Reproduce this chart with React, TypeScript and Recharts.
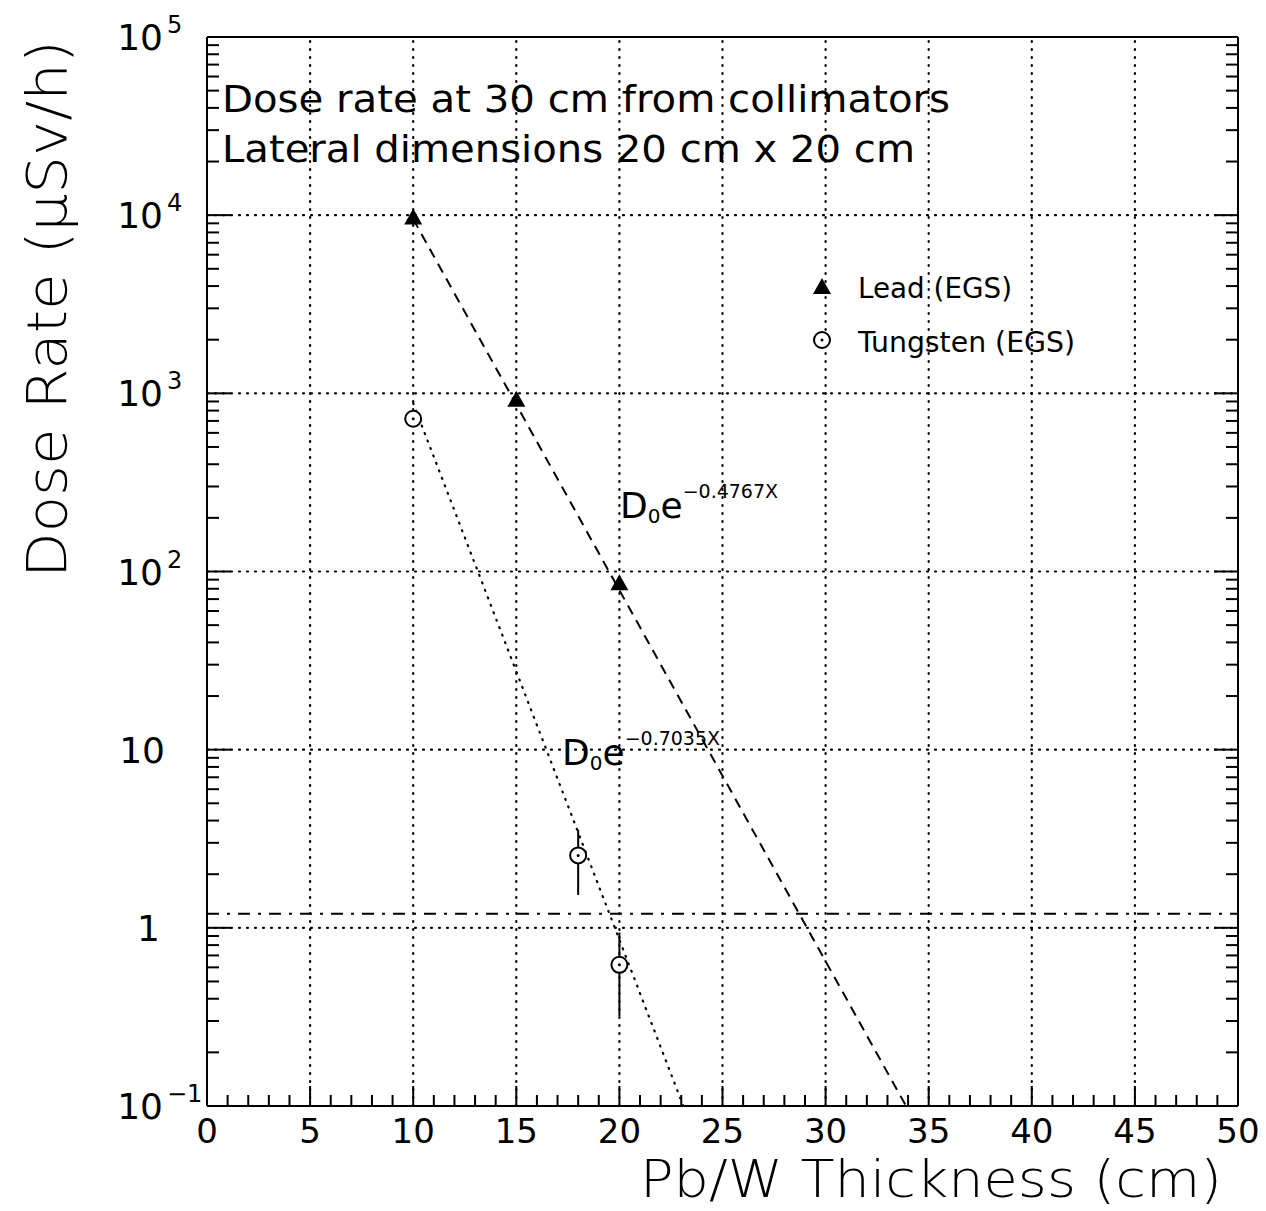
import React from "react";
import { ComposedChart, XAxis, YAxis, Line, Scatter, ErrorBar, ReferenceLine } from "recharts";

// Pb/W thickness (cm) vs dose rate (uSv/h)
const leadThickness = [10, 15, 20];
const leadDose = [9700, 920, 86];

const tungstenThickness = [10, 18, 20];
const tungstenDose = [720, 2.55, 0.62];
const tungstenErrLow = [0, 1.02, 0.3];
const tungstenErrHigh = [0, 1.0, 0.32];

// exponential fits, end points as drawn
const leadFitX = [10, 33.9];
const leadFitY = [9500, 0.1];
const tungstenFitX = [10, 23.1];
const tungstenFitY = [880, 0.1];

const limitDose = 1.2;

const xMajor = [0, 5, 10, 15, 20, 25, 30, 35, 40, 45, 50];
const xMinor = Array.from({ length: 51 }, (_, i) => i);
const yMajor = [0.1, 1, 10, 100, 1000, 10000, 100000];
const yMinor = [0.1, 1, 10, 100, 1000, 10000]
  .flatMap((d) => [1, 2, 3, 4, 5, 6, 7, 8, 9].map((m) => m * d))
  .concat([100000]);
const yLabels: Record<string, [string, string]> = {
  "0.1": ["10", "\u22121"],
  "1": ["1", ""],
  "10": ["10", ""],
  "100": ["10", "2"],
  "1000": ["10", "3"],
  "10000": ["10", "4"],
  "100000": ["10", "5"],
};

const leadData = leadThickness.map((x, i) => ({ x, y: leadDose[i] }));
const tungstenData = tungstenThickness.map((x, i) => ({
  x,
  y: tungstenDose[i],
  err: [tungstenErrLow[i], tungstenErrHigh[i]],
}));
const leadFit = leadFitX.map((x, i) => ({ x, y: leadFitY[i] }));
const tungstenFit = tungstenFitX.map((x, i) => ({ x, y: tungstenFitY[i] }));

const W = 1258;
const H = 1203;
const PL = 199;
const PT = 29;
const PR = 1230;
const PB = 1098;
const FONT = "'DejaVu Sans', sans-serif";

const isDecade = (v: number) => Math.abs(Math.log10(v) - Math.round(Math.log10(v))) < 1e-6;

const BottomTick = ({ x, payload }: any) => {
  const v = payload.value;
  const major = v % 5 === 0;
  return (
    <g>
      <line x1={x} x2={x} y1={PB} y2={PB - (major ? 20 : 11)} stroke="#000" strokeWidth={2} />
      {major && (
        <text x={x} y={PB + 37} textAnchor="middle" fontSize={34} fontFamily={FONT} fill="#000">
          {v}
        </text>
      )}
    </g>
  );
};

const TopTick = ({ x, payload }: any) => {
  const major = payload.value % 5 === 0;
  return <line x1={x} x2={x} y1={PT} y2={PT + (major ? 20 : 11)} stroke="#000" strokeWidth={2} />;
};

const LeftTick = ({ y, payload }: any) => {
  const v = payload.value;
  const major = isDecade(v);
  const lab = yLabels[String(v)];
  return (
    <g>
      <line x1={PL} x2={PL + (major ? 24 : 12)} y1={y} y2={y} stroke="#000" strokeWidth={2} />
      {major && lab && (
        <g fontFamily={FONT} fill="#000">
          <text x={lab[1] ? 155 : v === 1 ? 152 : 157} y={y + 13} textAnchor="end" fontSize={36}>
            {lab[0]}
          </text>
          {lab[1] && (
            <text x={159} y={y - 4} textAnchor="start" fontSize={24}>
              {lab[1]}
            </text>
          )}
        </g>
      )}
    </g>
  );
};

const RightTick = ({ y, payload }: any) => {
  const major = isDecade(payload.value);
  return <line x1={PR} x2={PR - (major ? 24 : 12)} y1={y} y2={y} stroke="#000" strokeWidth={2} />;
};

const Triangle = ({ cx, cy }: any) => (
  <path d={`M${cx},${cy - 9} L${cx + 9},${cy + 7} L${cx - 9},${cy + 7} Z`} fill="#000" />
);

const OpenCircle = ({ cx, cy }: any) => (
  <g>
    <circle cx={cx} cy={cy} r={8} fill="#fff" stroke="#000" strokeWidth={2} />
    <circle cx={cx} cy={cy} r={1.5} fill="#000" />
  </g>
);

const gridStyle = { stroke: "#000", strokeWidth: 2.2, strokeDasharray: "1 7", strokeLinecap: "round" as const };

export default function App() {
  return (
    <div style={{ position: "relative", width: W, height: H, background: "#fff" }}>
      <ComposedChart width={W} height={H} margin={{ top: 28, right: W - PR - 1, bottom: 0, left: 0 }}>
        <XAxis
          dataKey="x"
          type="number"
          domain={[0, 50]}
          ticks={xMinor}
          interval={0}
          height={H - PB}
          tickLine={false}
          axisLine={{ stroke: "#000", strokeWidth: 2 }}
          tick={<BottomTick />}
        />
        <XAxis
          xAxisId="top"
          orientation="top"
          type="number"
          domain={[0, 50]}
          ticks={xMinor}
          interval={0}
          height={1}
          tickLine={false}
          axisLine={{ stroke: "#000", strokeWidth: 2 }}
          tick={<TopTick />}
        />
        <YAxis
          dataKey="y"
          type="number"
          scale="log"
          domain={[0.1, 100000]}
          allowDataOverflow
          ticks={yMinor}
          interval={0}
          width={PL}
          tickLine={false}
          axisLine={{ stroke: "#000", strokeWidth: 2 }}
          tick={<LeftTick />}
        />
        <YAxis
          yAxisId="right"
          orientation="right"
          type="number"
          scale="log"
          domain={[0.1, 100000]}
          allowDataOverflow
          ticks={yMinor}
          interval={0}
          width={1}
          tickLine={false}
          axisLine={{ stroke: "#000", strokeWidth: 2 }}
          tick={<RightTick />}
        />
        {xMajor.slice(1, -1).map((v) => (
          <ReferenceLine key={`gx${v}`} x={v} {...gridStyle} />
        ))}
        {yMajor.slice(1, -1).map((v) => (
          <ReferenceLine key={`gy${v}`} y={v} {...gridStyle} />
        ))}
        <ReferenceLine y={limitDose} stroke="#000" strokeWidth={2} strokeDasharray="12 8 3 8" />
        <Line
          data={leadFit}
          dataKey="y"
          type="linear"
          stroke="#000"
          strokeWidth={2}
          strokeDasharray="10 7"
          dot={false}
          isAnimationActive={false}
        />
        <Line
          data={tungstenFit}
          dataKey="y"
          type="linear"
          stroke="#000"
          strokeWidth={2.2}
          strokeDasharray="1 7"
          strokeLinecap="round"
          dot={false}
          isAnimationActive={false}
        />
        <Scatter data={leadData} dataKey="y" shape={<Triangle />} isAnimationActive={false} />
        <Scatter data={tungstenData} dataKey="y" shape={<OpenCircle />} isAnimationActive={false}>
          <ErrorBar dataKey="err" direction="y" width={0} stroke="#000" strokeWidth={2} />
        </Scatter>
      </ComposedChart>
      <svg
        width={W}
        height={H}
        style={{ position: "absolute", left: 0, top: 0, pointerEvents: "none" }}
        fontFamily={FONT}
        fill="#000"
      >
        <text x={214} y={104} fontSize={38} textLength={728} lengthAdjust="spacingAndGlyphs">
          Dose rate at 30 cm from collimators
        </text>
        <text x={214} y={154} fontSize={38} textLength={693} lengthAdjust="spacingAndGlyphs">
          Lateral dimensions 20 cm x 20 cm
        </text>

        <path d="M814,270 L823,286 L805,286 Z" fill="#000" />
        <text x={850} y={290} fontSize={28} textLength={154} lengthAdjust="spacingAndGlyphs">
          Lead (EGS)
        </text>
        <circle cx={814} cy={332} r={8} fill="#fff" stroke="#000" strokeWidth={2} />
        <circle cx={814} cy={332} r={1.5} fill="#000" />
        <text x={850} y={344} fontSize={28} textLength={217} lengthAdjust="spacingAndGlyphs">
          Tungsten (EGS)
        </text>

        <text x={612} y={510} fontSize={36}>
          D<tspan fontSize={20} dy={5}>0</tspan>
          <tspan dy={-5}>e</tspan>
          <tspan fontSize={19} dy={-20}>{"\u22120.4767X"}</tspan>
        </text>
        <text x={554} y={757} fontSize={36}>
          D<tspan fontSize={20} dy={5}>0</tspan>
          <tspan dy={-5}>e</tspan>
          <tspan fontSize={19} dy={-20}>{"\u22120.7035X"}</tspan>
        </text>

        <text x={632} y={1189} fontSize={52} fontWeight={300} textLength={582} lengthAdjust="spacingAndGlyphs">
          Pb/W Thickness (cm)
        </text>
        <text
          x={58}
          y={570}
          fontSize={55}
          fontWeight={300}
          textLength={538}
          lengthAdjust="spacingAndGlyphs"
          transform="rotate(-90 58 570)"
        >
          Dose Rate ({"\u03bc"}Sv/h)
        </text>
      </svg>
    </div>
  );
}
